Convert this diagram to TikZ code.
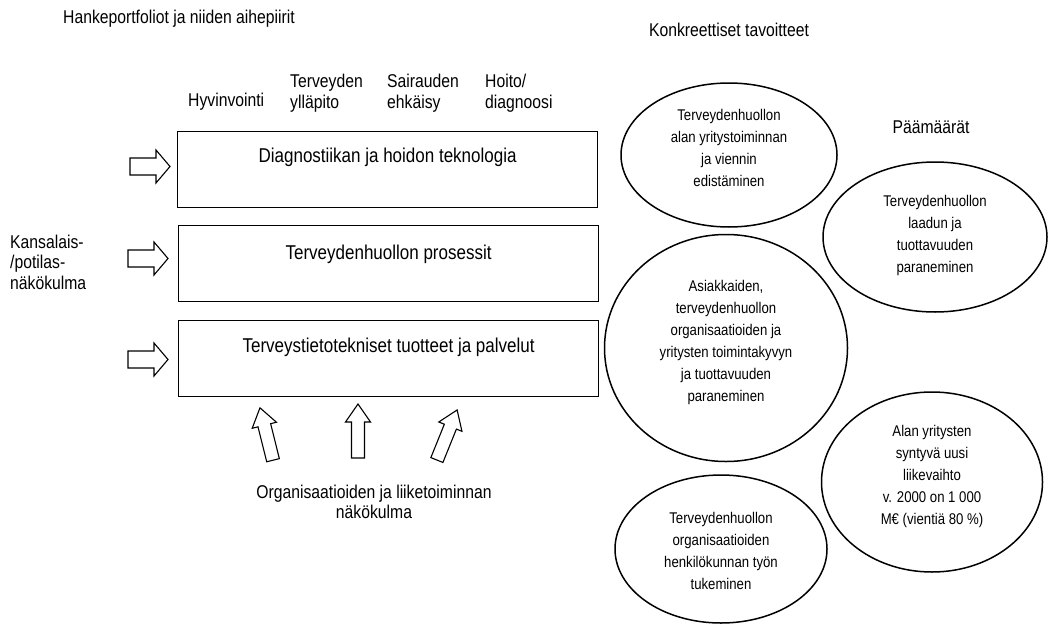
\documentclass[tikz,border=0pt]{standalone}
\usepackage{fontspec}
\setmainfont{Liberation Sans}[FakeStretch=0.85]
\usetikzlibrary{shapes.geometric}
\tikzset{
  box/.style={draw, line width=1.2pt, minimum width=420pt, minimum height=76pt, anchor=north west, inner sep=0pt},
  boxtext/.style={font=\fontsize{20}{22}\selectfont, inner sep=0pt},
  lab/.style={font=\fontsize{18.5}{20.5}\selectfont, inner sep=0pt},
  oval/.style={draw, ellipse, line width=1.5pt, inner sep=0pt},
  ovaltext/.style={font=\fontsize{15.5}{22}\selectfont, align=center, inner sep=0pt},
  harrow/.pic={\draw[line width=1.1pt, fill=white, line join=miter] (-20,-8.5) -- (6,-8.5) -- (6,-16.5) -- (20,0) -- (6,16.5) -- (6,8.5) -- (-20,8.5) -- cycle;},
  varrow/.pic={\draw[line width=1.1pt, fill=white, line join=miter] (-27,-6.5) -- (9,-6.5) -- (9,-12.5) -- (27,0) -- (9,12.5) -- (9,6.5) -- (-27,6.5) -- cycle;}
}
\begin{document}
\begin{tikzpicture}[x=1pt,y=-1pt]
\useasboundingbox (0,0) rectangle (1051,626);
% titles
\node[lab, anchor=west] (title) at (63,19) {Hankeportfoliot ja niiden aihepiirit};
\node[lab] (konk) at (729,30) {Konkreettiset tavoitteet};
\node[lab] (paam) at (931,127) {Päämäärät};
% column headers
\node[lab, anchor=west] (h1) at (188,102) {Hyvinvointi};
\node[lab, anchor=west, align=left] (h2) at (290,93) {Terveyden\\ylläpito};
\node[lab, anchor=west, align=left] (h3) at (387,93) {Sairauden\\ehkäisy};
\node[lab, anchor=west, align=left] (h4) at (485,93) {Hoito/\\diagnoosi};
% boxes
\node[box] (b1) at (177,131) {};
\node[boxtext] (t1) at ([yshift=-26pt]b1.north) {Diagnostiikan ja hoidon teknologia};
\node[box] (b2) at (178,225) {};
\node[boxtext] (t2) at ([yshift=-29pt]b2.north) {Terveydenhuollon prosessit};
\node[box] (b3) at (178,320) {};
\node[boxtext] (t3) at ([yshift=-27pt]b3.north) {Terveystietotekniset tuotteet ja palvelut};
% left arrows
\pic (a1) at (150,166.5) {harrow};
\pic (a2) at (148,258.5) {harrow};
\pic (a3) at (148,359.5) {harrow};
\node[lab, anchor=west, align=left] (kans) at (10,262) {Kansalais-\\/potilas-\\näkökulma};
% bottom arrows
\pic[rotate=104] (u1) at (266.5,434) {varrow};
\pic[rotate=90] (u2) at (358,431) {varrow};
\pic[rotate=68] (u3) at (447,435) {varrow};
\node[lab, align=center] (org) at (374,502) {Organisaatioiden ja liiketoiminnan\\näkökulma};
% ellipses
\node[oval, minimum width=216pt, minimum height=144pt] (e1) at (729,155) {};
\node[ovaltext] (e1t) at (729,148) {Terveydenhuollon\\alan yritystoiminnan\\ja viennin\\edistäminen};
\node[oval, minimum width=243pt, minimum height=227pt] (e2) at (726,348) {};
\node[ovaltext] (e2t) at (726,342) {Asiakkaiden,\\terveydenhuollon\\organisaatioiden ja\\yritysten toimintakyvyn\\ja tuottavuuden\\paraneminen};
\node[oval, minimum width=224pt, minimum height=150pt] (e3) at (935,237) {};
\node[ovaltext] (e3t) at (935,235) {Terveydenhuollon\\laadun ja\\tuottavuuden\\paraneminen};
\node[oval, minimum width=221pt, minimum height=180pt] (e4) at (932,482) {};
\node[ovaltext] (e4t) at (932,476) {Alan yritysten\\syntyvä uusi\\liikevaihto\\v. 2000 on 1 000\\M€ (vientiä 80 \%)};
\node[oval, minimum width=212pt, minimum height=148pt] (e5) at (721,549) {};
\node[ovaltext] (e5t) at (721,551) {Terveydenhuollon\\organisaatioiden\\henkilökunnan työn\\tukeminen};
\end{tikzpicture}
\end{document}
